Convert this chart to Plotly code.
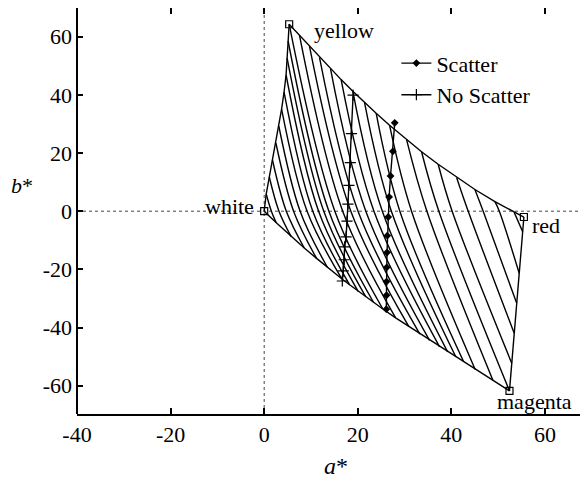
import plotly.graph_objects as go

# ---- data (CIELAB a*, b*) ----
corner_names = ["white", "yellow", "red", "magenta"]
corner_a = [0.0, 5.34, 55.5, 52.42]
corner_b = [0.0, 64.3, -2.0, -61.8]

# gamut boundary
edge_wy_a = [0.0, 0.43, 1.09, 1.77, 2.50, 3.12, 3.72, 4.25, 4.68, 4.90, 5.11, 5.34]
edge_wy_b = [0.0, 5.91, 11.76, 17.61, 23.45, 29.30, 35.14, 40.99, 46.84, 52.68, 58.53, 64.3]
edge_yr_a = [5.34, 7.55, 9.69, 11.82, 14.18, 16.44, 18.94, 21.45, 23.93, 26.79, 30.43, 33.63,
             37.18, 41.12, 45.03, 49.31, 53.43, 55.5]
edge_yr_b = [64.3, 60.45, 56.67, 52.92, 48.97, 45.25, 41.27, 37.38, 33.70, 29.57, 24.62, 20.46,
             16.13, 11.62, 7.46, 3.27, -0.41, -2.0]
edge_rm_a = [55.5, 52.42]
edge_rm_b = [-2.0, -61.8]
edge_mw_a = [52.42, 48.88, 45.09, 42.63, 40.97, 39.21, 37.48, 35.34, 33.27, 30.92, 28.09, 25.36,
             23.39, 21.72, 20.08, 18.26, 16.57, 13.53, 11.20, 8.57, 5.77, 2.59, 0.0]
edge_mw_b = [-61.8, -58.15, -54.44, -51.79, -50.14, -48.38, -46.63, -44.43, -42.26, -39.72, -36.66, -33.63,
             -31.40, -29.47, -27.54, -25.31, -23.21, -19.36, -16.23, -12.65, -8.73, -3.99, 0.0]

# hatch lines: (top point, crossing of b*=0, bottom point)
hatch_a = [
    [0.43, 1.54, 2.59], [1.09, 3.16, 5.77], [1.77, 4.73, 8.57], [2.50, 6.29, 11.20],
    [3.12, 7.68, 13.53], [3.72, 9.17, 16.57], [4.25, 10.39, 18.26], [4.68, 11.63, 20.08],
    [4.90, 12.74, 21.72], [5.11, 13.83, 23.39], [5.34, 15.10, 25.36],
    [7.55, 16.78, 28.09], [9.69, 18.52, 30.92], [11.82, 20.06, 33.27], [14.18, 21.72, 35.34],
    [16.44, 23.46, 37.48], [18.94, 25.25, 39.21], [21.45, 27.18, 40.97], [23.93, 28.99, 42.63],
    [26.79, 31.49, 45.09], [30.43, 34.77, 48.88], [33.63, 37.33, 52.42],
    [37.18, 40.17, 52.91], [41.12, 43.60, 53.44], [45.03, 46.80, 53.97], [49.31, 50.25, 54.50],
    [53.43, 55.24],
]
hatch_b = [
    [5.91, 0.0, -3.99], [11.76, 0.0, -8.73], [17.61, 0.0, -12.65], [23.45, 0.0, -16.23],
    [29.30, 0.0, -19.36], [35.14, 0.0, -23.21], [40.99, 0.0, -25.31], [46.84, 0.0, -27.54],
    [52.68, 0.0, -29.47], [58.53, 0.0, -31.40], [64.3, 0.0, -33.63],
    [60.45, 0.0, -36.66], [56.67, 0.0, -39.72], [52.92, 0.0, -42.26], [48.97, 0.0, -44.43],
    [45.25, 0.0, -46.63], [41.27, 0.0, -48.38], [37.38, 0.0, -50.14], [33.70, 0.0, -51.79],
    [29.57, 0.0, -54.44], [24.62, 0.0, -58.15], [20.46, 0.0, -61.8],
    [16.13, 0.0, -52.30], [11.62, 0.0, -41.99], [7.46, 0.0, -31.67], [3.27, 0.0, -21.36],
    [-0.41, -7.05],
]

scatter_a = [27.9, 27.5, 27.0, 26.7, 26.5, 26.3, 26.25, 26.2, 26.15, 26.15, 26.1]
scatter_b = [30.4, 20.6, 12.1, 4.9, -2.0, -8.4, -14.2, -19.3, -24.2, -28.9, -33.7]
noscatter_a = [19.0, 18.65, 18.4, 18.1, 17.9, 17.7, 17.5, 17.2, 17.1, 16.9, 16.7]
noscatter_b = [39.9, 26.7, 16.7, 8.9, 2.4, -3.4, -8.8, -12.3, -16.7, -20.5, -24.0]

x_ticks = [-40, -20, 0, 20, 40, 60]
x_tick_text = ["-40", "-20", "0", "20", "40", "60"]
y_ticks = [-60, -40, -20, 0, 20, 40, 60]
y_tick_text = ["-60", "-40", "-20", "0", "20", "40", "60"]

FONT = "Liberation Serif, Times New Roman, serif"
LW = 1.4
tfont = dict(family=FONT, size=22, color="black")

fig = go.Figure()

# hatch lines
hx, hy = [], []
for xs, ys in zip(hatch_a, hatch_b):
    hx += xs + [None]
    hy += ys + [None]
fig.add_trace(go.Scatter(x=hx, y=hy, mode="lines", line=dict(color="black", width=LW, shape="spline", smoothing=1.0),
                         showlegend=False, hoverinfo="skip"))

# gamut boundary
for ea, eb in [(edge_wy_a, edge_wy_b), (edge_yr_a, edge_yr_b), (edge_rm_a, edge_rm_b), (edge_mw_a, edge_mw_b)]:
    fig.add_trace(go.Scatter(x=ea, y=eb, mode="lines", line=dict(color="black", width=LW),
                             showlegend=False, hoverinfo="skip"))

# corners
fig.add_trace(go.Scatter(x=corner_a, y=corner_b, mode="markers",
                         marker=dict(symbol="square-open", size=7, color="black", line=dict(width=1.2)),
                         showlegend=False, hoverinfo="skip"))

# series
fig.add_trace(go.Scatter(x=scatter_a, y=scatter_b, mode="lines+markers", name="Scatter",
                         line=dict(color="black", width=LW),
                         marker=dict(symbol="diamond", size=6, color="black")))
fig.add_trace(go.Scatter(x=noscatter_a, y=noscatter_b, mode="lines+markers", name="No Scatter",
                         line=dict(color="black", width=LW),
                         marker=dict(symbol="cross-thin", size=8, color="black", line=dict(width=1.2, color="black"))))

# corner labels
label_pos = {"white": (-1.65, 1.55, "right"), "yellow": (10.18, 62.3, "left"),
             "red": (56.8, -4.85, "left"), "magenta": (57.75, -65.3, "center")}
for name in corner_names:
    ax_, by_, anc = label_pos[name]
    fig.add_annotation(x=ax_, y=by_, text=name, showarrow=False, xanchor=anc, yanchor="middle",
                       font=tfont)

# axis titles
fig.add_annotation(xref="paper", yref="paper", x=0.507, y=-0.128, text="<i>a</i>*", showarrow=False,
                   xanchor="center", yanchor="middle", font=dict(family=FONT, size=24, color="black"))
fig.add_annotation(xref="paper", yref="paper", x=-0.1075, y=0.5616, text="<i>b</i>*", showarrow=False,
                   xanchor="center", yanchor="middle", font=dict(family=FONT, size=22, color="black"))

# dotted zero lines and left border
fig.add_shape(type="line", xref="x", yref="paper", x0=0, x1=0, y0=0, y1=1,
              line=dict(color="#444", width=1, dash="dot"), layer="below")
fig.add_shape(type="line", xref="paper", yref="y", x0=0, x1=1, y0=0, y1=0,
              line=dict(color="#444", width=1, dash="dot"), layer="below")
fig.add_shape(type="line", xref="paper", yref="paper", x0=0, x1=0, y0=0, y1=1,
              line=dict(color="black", width=2))

# the page body has an 8px margin, so the figure is sized to end at the window edge
fig.update_layout(
    width=580, height=475,
    margin=dict(l=69, r=0, t=0, b=69, autoexpand=False),
    plot_bgcolor="white", paper_bgcolor="white",
    font=tfont,
    legend=dict(x=0.625, y=0.9155, xanchor="left", yanchor="top", bgcolor="rgba(0,0,0,0)",
                font=tfont, tracegroupgap=0),
    xaxis=dict(range=[-40, 69.2], tickvals=x_ticks, ticktext=x_tick_text, ticks="inside", ticklen=6,
               tickwidth=2, tickcolor="black", showline=True, linewidth=2, linecolor="black",
               mirror="ticks", showgrid=False, zeroline=False, ticklabelstandoff=0,
               automargin=False, tickfont=tfont),
    yaxis=dict(range=[-69.74, 69.88], tickvals=y_ticks, ticktext=y_tick_text, ticks="inside", ticklen=6,
               tickwidth=2, tickcolor="black", showline=False, mirror="ticks",
               showgrid=False, zeroline=False, ticklabelstandoff=4,
               automargin=False, tickfont=tfont),
)

fig.write_html("out.html")
